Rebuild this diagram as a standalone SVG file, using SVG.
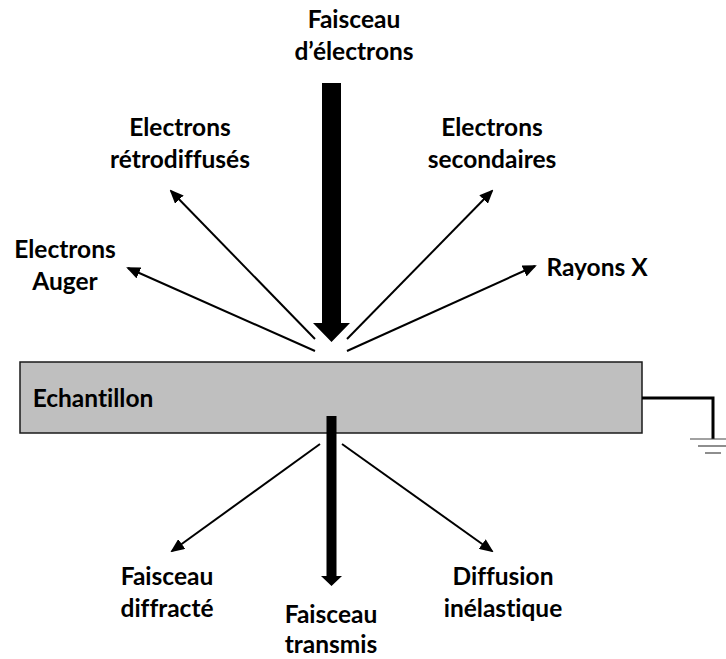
<svg xmlns="http://www.w3.org/2000/svg" width="726" height="659" viewBox="0 0 726 659">
<style>
text{font-family:Lato,"Open Sans","Liberation Sans",sans-serif;font-weight:bold;font-size:24.5px;fill:#000;text-anchor:middle;font-variant-ligatures:none;font-feature-settings:"liga" 0,"clig" 0}
.thin{stroke:#000;stroke-width:2;fill:none;marker-end:url(#ah)}
.wire{stroke:#000;stroke-width:3;fill:none}
.gnd{stroke:#444;stroke-width:1.2}
</style>
<defs>
<marker id="ah" markerUnits="userSpaceOnUse" markerWidth="14" markerHeight="12" viewBox="0 0 14 12" refX="12" refY="6" orient="auto">
<path d="M0,0 L14,6 L0,12 z" fill="#000"/>
</marker>
</defs>
<rect width="726" height="659" fill="#fff"/>
<g id="echantillon">
<rect x="20" y="362" width="622" height="71" fill="#bfbfbf" stroke="#1a1a1a" stroke-width="1.5"/>
<text x="93" y="407">Echantillon</text>
</g>
<g id="masse">
<path class="wire" d="M642,398 H713 V439"/>
<line class="gnd" x1="690" y1="439" x2="726" y2="439"/>
<line class="gnd" x1="698" y1="446" x2="726" y2="446"/>
<line class="gnd" x1="705" y1="453" x2="721" y2="453"/>
</g>
<g id="faisceau-electrons">
<text x="354" y="28">Faisceau</text>
<text x="354" y="60">d’électrons</text>
</g>
<g id="electrons-retro">
<text x="180" y="136">Electrons</text>
<text x="180" y="168">rétrodiffusés</text>
</g>
<g id="electrons-secondaires">
<text x="492" y="136">Electrons</text>
<text x="492" y="168">secondaires</text>
</g>
<g id="electrons-auger">
<text x="65" y="258">Electrons</text>
<text x="65" y="290">Auger</text>
</g>
<g id="rayons-x">
<text x="597" y="276">Rayons X</text>
</g>
<g id="faisceau-diffracte">
<text x="167" y="585">Faisceau</text>
<text x="167" y="617">diffracté</text>
</g>
<g id="faisceau-transmis">
<text x="331" y="623">Faisceau</text>
<text x="331" y="653">transmis</text>
</g>
<g id="diffusion-inelastique">
<text x="503" y="585">Diffusion</text>
<text x="503" y="617">inélastique</text>
</g>
<g id="connecteurs">
<polygon points="322,83 341,83 341,323 350,323 331.5,342 313,323 322,323" fill="#000"/>
<polygon points="326.5,416 336.5,416 336.5,576 342,576 331.5,586 321,576 326.5,576" fill="#000"/>
<line class="thin" x1="315" y1="339" x2="171" y2="191"/>
<line class="thin" x1="315" y1="351" x2="128" y2="268"/>
<line class="thin" x1="347" y1="339" x2="492" y2="191"/>
<line class="thin" x1="347" y1="351" x2="535" y2="266"/>
<line class="thin" x1="320" y1="444" x2="172" y2="551"/>
<line class="thin" x1="342" y1="444" x2="492" y2="551"/>
</g>
</svg>
